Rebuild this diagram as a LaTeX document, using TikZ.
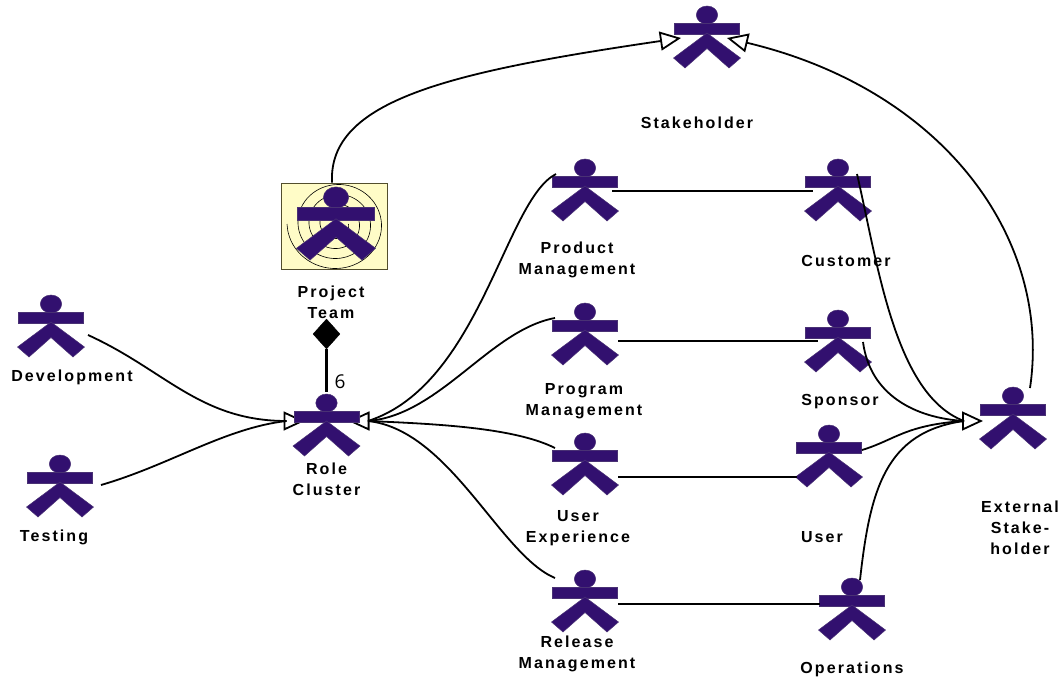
\documentclass[tikz,border=0pt]{standalone}
\usepackage{fontspec}
\setmainfont{Liberation Sans}
\newfontfamily\lblfont[LetterSpace=13]{Liberation Sans}
\newfontfamily\numfont{Open Sans}
\usetikzlibrary{arrows.meta,calc,shapes.geometric}
\pgfdeclarelayer{fg}
\pgfdeclarelayer{top}
\pgfsetlayers{main,fg,top}
\definecolor{actorc}{HTML}{32106F}
\tikzset{
  x=1pt,y=-1pt,
  actorbox/.style={inner sep=0pt,minimum width=65pt,minimum height=1pt},
  actorpart/.style={fill=actorc,draw=actorc!70!gray,line width=.5pt},
  lbl/.style={font=\lblfont\bfseries\fontsize{16}{21}\selectfont,align=center,inner sep=0pt,text=black},
  link/.style={line width=1.8pt,black},
  gen/.style={link,-{Triangle[open,fill=white,length=21pt,width=19pt,line width=1.8pt]}},
  plain/.style={link},
  teambox/.style={draw=black!55!olive,fill=yellow!22,line width=.8pt,minimum width=106pt,minimum height=86pt,inner sep=0pt},
  spiral/.style={black,line width=.6pt},
  aggr/.style={fill=black,draw=black,diamond,aspect=.86,minimum width=27pt,minimum height=30pt,inner sep=0pt}
}
% #1 name, #2 x, #3 y of the arm bar's top centre, #4 scale
\newcommand{\actorfig}[4]{%
  \node[actorbox] (#1) at (#2,#3) {};
  \begin{scope}[shift={(#2,#3)},scale=#4]
    \fill[actorpart] (0,-8) ellipse [x radius=10.7,y radius=9];
    \fill[actorpart] (-32.5,0) rectangle (32.5,11);
    \fill[actorpart] (0,10) -- (33.5,35) -- (22,45) -- (0,25.5) -- (-22,45) -- (-33.5,35) -- cycle;
  \end{scope}
}
\begin{document}
\begin{tikzpicture}
\useasboundingbox (0,0) rectangle (1062,679);
\node[teambox] (box) at (334,226) {};
\draw[spiral] plot[smooth,domain=180:-1080,samples=120] ({337+(50-(180-\x)/360*11)*cos(\x)},{224+(47-(180-\x)/360*10)*sin(\x)});
\begin{pgfonlayer}{fg}
\actorfig{stake}{707}{23}{1}
\actorfig{team}{336}{207}{1.18}
\actorfig{role}{326.5}{411}{1}
\actorfig{prod}{585}{176}{1}
\actorfig{cust}{838}{176}{1}
\actorfig{prog}{585}{320}{1}
\actorfig{spon}{838}{327}{1}
\actorfig{uxp}{585}{450}{1}
\actorfig{usr}{829}{442}{1}
\actorfig{ext}{1013}{404}{1}
\actorfig{rel}{585}{587}{1}
\actorfig{ops}{852}{595}{1}
\actorfig{dev}{51}{312}{1}
\actorfig{tst}{60}{472}{1}
\end{pgfonlayer}
\node[lbl] (lstake) at (697,123) {Stakeholder};
\node[lbl] (lprod) at (577,259.5) {Product\\Management};
\node[lbl] (lcust) at (846,260.5) {Customer};
\node[lbl] (lteam) at (331,302) {Project\\Team};
\node[lbl] (ldev) at (72,377.5) {Development};
\node[lbl] (ltst) at (54,537.5) {Testing};
\node[lbl] (lrole) at (326.5,479.5) {Role\\Cluster};
\node[lbl] (lprog) at (584,401) {Program\\Management};
\node[lbl] (lspon) at (840,402) {Sponsor};
\node[lbl] (luxp) at (578,528) {User\\Experience};
\node[lbl] (lusr) at (822,537.5) {User};
\node[lbl] (lrel) at (577,654) {Release\\Management};
\node[lbl] (lops) at (852,669.5) {Operations};
\node[lbl] (lext) at (1020,528) {External\\Stake-\\holder};
\node[aggr] (dia) at (326.5,334) {};
\draw[link,line width=2.2pt] (dia.south) -- ($(role)+(0,-19)$);
\node[inner sep=0pt,font=\numfont\fontsize{19}{20}\selectfont,text=black] (mult) at (340,382) {6};
% arrowhead bases where several lines merge
\coordinate (rolel) at ($(role)+(-40,10)$);
\coordinate (roler) at ($(role)+(41.5,10)$);
\coordinate (extb) at ($(ext)+(-49,17)$);
% generalisation to Stakeholder
\draw[gen] ($(box.north)+(-2,0)$) .. controls (328,100) and (450,72) .. ($(stake)+(-26,15)$);
\draw[gen] ($(ext)+(17,-16)$) .. controls (1052,240) and (945,90) .. ($(stake)+(20,15)$);
% arrowheads under the figures
\draw[gen] (rolel) -- ($(role)+(-22,10)$);
\draw[gen] (roler) -- ($(role)+(22,10)$);
\draw[gen] (extb) -- ($(ext)+(-30,17)$);
\begin{pgfonlayer}{top}
% to Role Cluster
\draw[link] ($(dev)+(37,23)$) .. controls (165,370) and (200,421) .. (rolel);
\draw[link] ($(tst)+(41,13)$) .. controls (170,465) and (225,428) .. (rolel);
\draw[link] ($(prod)+(-29,-2)$) .. controls (505,200) and (480,385) .. (roler);
\draw[link] ($(prog)+(-30,-2)$) .. controls (490,330) and (440,415) .. (roler);
\draw[link] ($(uxp)+(-30,-2)$) .. controls (515,428) and (440,424) .. (roler);
\draw[link] ($(rel)+(-30,-9)$) .. controls (500,555) and (450,430) .. (roler);
% to External Stakeholder
\draw[link] ($(cust)+(19,-2)$) .. controls (878,265) and (895,395) .. (extb);
\draw[link] ($(spon)+(25,15)$) .. controls (870,395) and (915,418) .. (extb);
\draw[link] ($(usr)+(33,8)$) .. controls (895,440) and (905,425) .. (extb);
\draw[link] ($(ops)+(8,-15)$) .. controls (870,490) and (885,432) .. (extb);
% associations
\draw[plain] ($(prod)+(27,15)$) -- ($(cust)+(-25,15)$);
\draw[plain] ($(prog)+(33,21)$) -- ($(spon)+(-20,14)$);
\draw[plain] ($(uxp)+(33,27)$) -- ($(usr)+(-32,35)$);
\draw[plain] ($(rel)+(33,17)$) -- ($(ops)+(-32,9)$);
\end{pgfonlayer}
\end{tikzpicture}
\end{document}
